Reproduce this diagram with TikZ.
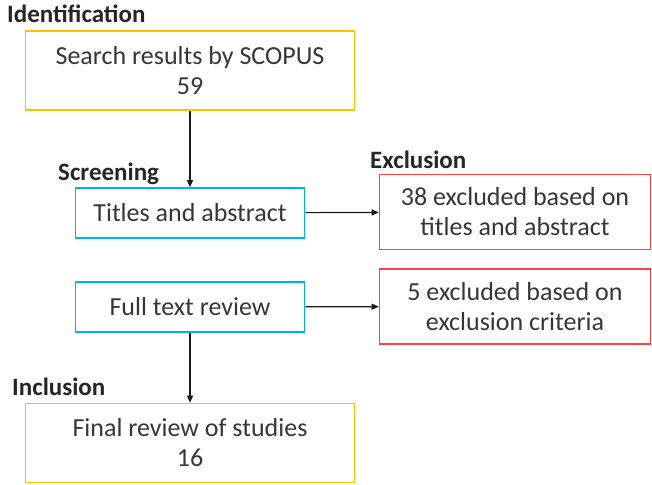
\documentclass[tikz,border=0pt]{standalone}
\usepackage{fontspec}
\setmainfont{Carlito}
\usetikzlibrary{arrows.meta}

\definecolor{idyellow}{HTML}{FFC000}
\definecolor{scrblue}{HTML}{00B0F0}
\definecolor{exred}{HTML}{FF4040}
\definecolor{txtgray}{HTML}{363636}

\begin{document}
\begin{tikzpicture}[x=1pt,y=-1pt]
	\tikzset{
	  flowbox/.style={draw,line width=1.6pt,text=txtgray,align=center,inner sep=0pt,
		font=\fontsize{26}{30}\selectfont},
	  yellowbox/.style={flowbox,draw=idyellow,minimum width=329pt,minimum height=79pt},
	  bluebox/.style={flowbox,draw=scrblue,minimum width=229pt,minimum height=50pt},
	  redbox/.style={flowbox,draw=exred,minimum width=271pt,minimum height=75pt},
	  stagename/.style={anchor=base west,inner sep=0pt,text=black!85,
		font=\fontsize{25}{30}\selectfont\bfseries},
	  flowarrow/.style={-{Triangle[length=7pt,width=6pt]},line width=1.2pt,black!90}
	}

	\useasboundingbox (0,0) rectangle (652,484);

	%STAGE NAMES
	\node[stagename] (identification) at (7,23) {Identification};
	\node[stagename] (screening) at (58,180) {Screening};
	\node[stagename] (exclusion) at (370,168) {Exclusion};
	\node[stagename] (inclusion) at (12,395) {Inclusion};

	%BOXES
	\node[yellowbox] (search) at (190,70.5) {Search results by SCOPUS\\59};
	\node[bluebox] (titles) at (190,213) {Titles and abstract};
	\node[redbox] (exclTitles) at (515,212) {38 excluded based on\\titles and abstract};
	\node[bluebox] (fulltext) at (190,307) {Full text review};
	\node[redbox] (exclCriteria) at (515,306.5) {5 excluded based on\\exclusion criteria};
	\node[yellowbox] (final) at (190,443) {Final review of studies\\16};

	%ARROWS
	\draw[flowarrow] (search) -- (titles);
	\draw[flowarrow] (titles) -- (exclTitles);
	\draw[flowarrow] (fulltext) -- (exclCriteria);
	\draw[flowarrow] (fulltext) -- (final);
\end{tikzpicture}
\end{document}
